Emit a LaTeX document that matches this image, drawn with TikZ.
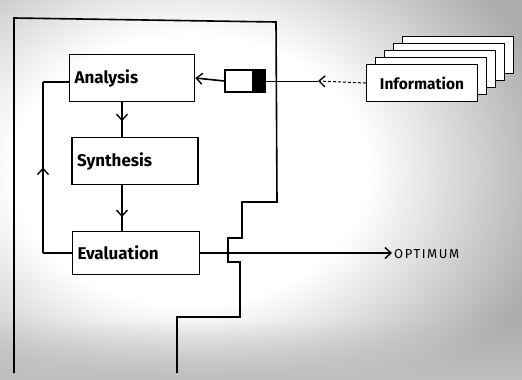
\documentclass[tikz,border=0pt]{standalone}
\usepackage{fontspec}
\setmainfont{Fira Sans}
\usetikzlibrary{arrows.meta,decorations.markings,positioning,fadings}
\pgfdeclareradialshading{bgshade}{\pgfpoint{0bp}{0bp}}{color(0bp)=(white); color(12bp)=(white); color(25bp)=(black!32); color(50bp)=(black!32)}
\begin{document}
\begin{tikzpicture}[x=1pt,y=-1pt,
  box/.style={draw,line width=1.6pt,minimum width=#1,inner sep=0pt,font=\bfseries\fontsize{17}{18}\selectfont},
  infobox/.style={draw,line width=1.1pt,fill=white,minimum width=111pt,minimum height=37pt,inner sep=0pt},
  wire/.style={line width=1.6pt},
  thin/.style={line width=1pt},
  midarrow/.style={postaction={decorate},decoration={markings,mark=at position #1 with {\arrow{Straight Barb[length=6pt,width=11pt,line width=1.4pt]}}}},
  mytip/.style={-{Straight Barb[length=6pt,width=11pt,line width=1.4pt]}}]
\useasboundingbox (0,0) rectangle (522,380);
% background tone
\shade[shading=bgshade] (-180,-110) rectangle (560,450);
\fill[black!25,path fading=north] (0,320) rectangle (522,380);
% outer boundary
\draw[wire] (14,373) -- (14,18) -- (276,22) -- (277,202) -- (242,202) -- (242,238)
  -- (228,238) -- (228,262) -- (240,262) -- (240,317) -- (177,317) -- (177,373);
% boxes
\node[box=125pt,minimum height=47pt,text width=115pt,align=left] (an) at (132,78) {Analysis};
\node[box=126pt,minimum height=47pt,text width=116pt,align=left] (sy) at (135,161) {Synthesis};
\node[box=127pt,minimum height=43pt,text width=117pt,align=left] (ev) at (136,253) {Evaluation};
% small input box
\node[draw,line width=1.4pt,fill=white,minimum width=40pt,minimum height=22pt,inner sep=0pt] (sb) at (245,81) {};
\fill (252,70) rectangle (265,92);
% information stack
\foreach \i in {4,3,2,1} {
  \node[infobox] (inf\i) at (422+9*\i,83-7*\i) {};
}
\node[infobox,font=\bfseries\fontsize{15.5}{16}\selectfont] (inf) at (422,83) {Information};
% connectors
\coordinate (arr) at (318,81);
\draw[thin] (sb.east) -- (arr);
\draw[thin,dash pattern=on 3pt off 2pt,mytip] (inf.west) -- (arr);
\draw[wire,mytip] (sb.west) -- (an.east);
\draw[wire,midarrow=0.55] (an.south -| 122,0) -- (sy.north -| 122,0);
\draw[wire,midarrow=0.7] (sy.south -| 122,0) -- (ev.north -| 122,0);
\coordinate (fl1) at (43,253);
\coordinate (fl2) at (43,82);
\draw[wire] (ev.west) -- (fl1);
\draw[wire,midarrow=0.5] (fl1) -- (fl2);
\draw[wire] (fl2) -- (an.west |- fl2);
\node[font=\fontsize{13}{14}\selectfont\addfontfeature{LetterSpace=12},anchor=west,inner sep=2pt] (opt) at (392,254) {OPTIMUM};
\draw[wire,mytip] (ev.east) -- (opt.west |- ev.east);
\end{tikzpicture}
\end{document}
